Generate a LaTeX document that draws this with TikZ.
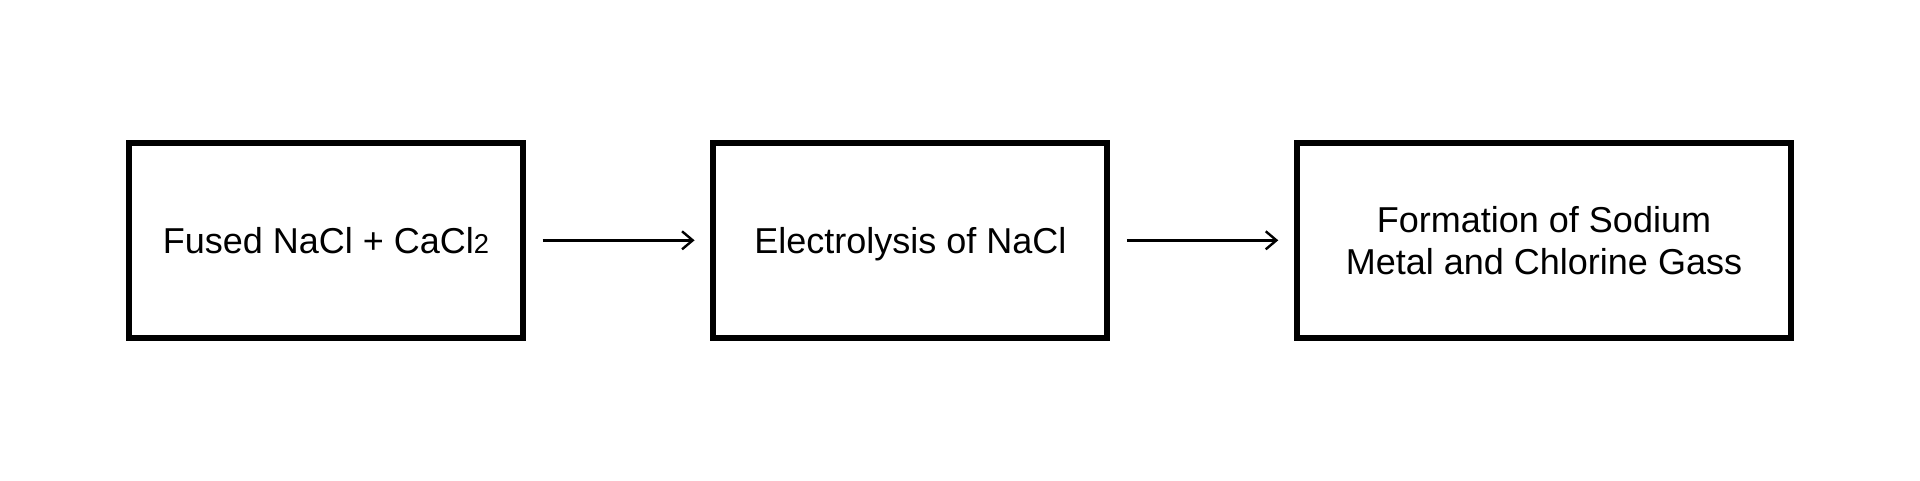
\documentclass[tikz,border=0pt]{standalone}
\usepackage{fontspec}
\setmainfont{Liberation Sans}
\usetikzlibrary{arrows.meta}
\begin{document}
\begin{tikzpicture}[x=0.75pt,y=-0.75pt,
  stepbox/.style={draw=black, line width=4.5pt, inner sep=0pt, minimum height=146.25pt, align=center, font=\fontsize{27}{31.5}\selectfont},
  oneline/.style={text height=19.5pt, text depth=0pt},
  flow/.style={line width=1.8pt, -{Straight Barb[length=8pt,width=13.5pt,line width=1.8pt]}}]
\useasboundingbox (0,0) rectangle (1920,480);
\node[stepbox, oneline, minimum width=295.5pt] (a) at (326,240.3) {Fused NaCl + CaCl{\fontsize{20.5}{24}\selectfont 2}};
\node[stepbox, oneline, minimum width=295.5pt] (b) at (910.3,240.3) {Electrolysis of NaCl};
\node[stepbox, minimum width=370.5pt] (c) at (1544,240.3) {Formation of Sodium\\Metal and Chlorine Gass};
\draw[flow, shorten <=12.5pt, shorten >=11.8pt] (a) -- (b);
\draw[flow, shorten <=12.5pt, shorten >=11.8pt] (b) -- (c);
\end{tikzpicture}
\end{document}
